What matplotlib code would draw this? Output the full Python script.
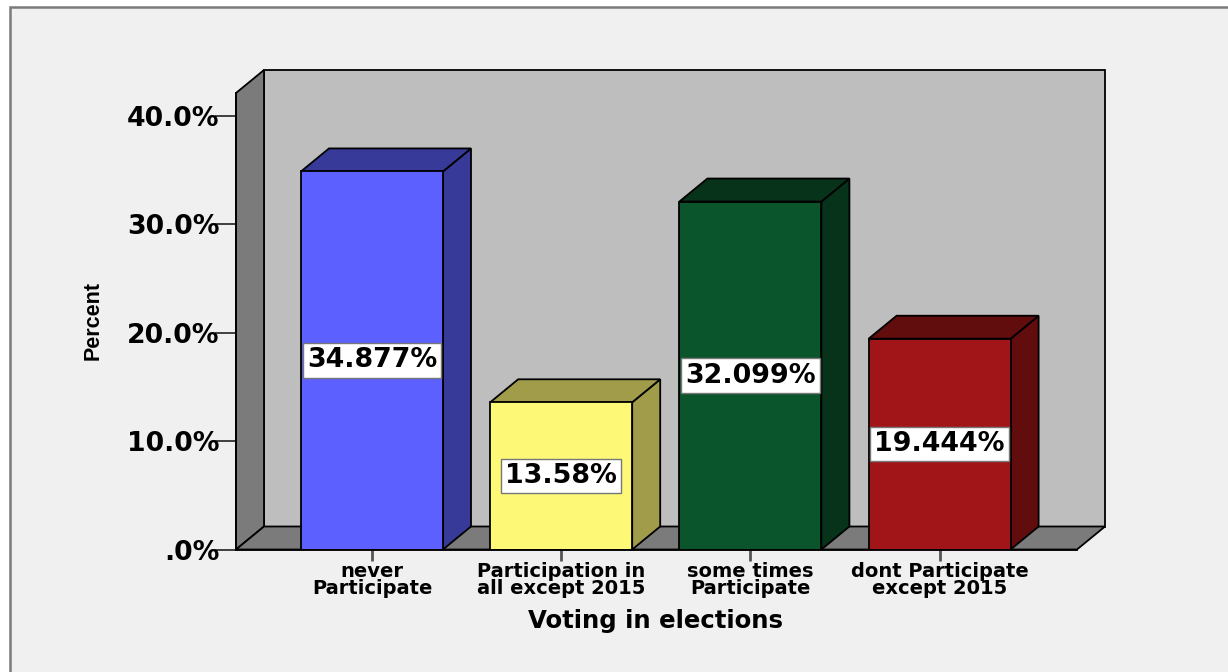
import matplotlib
matplotlib.use("Agg")
import matplotlib.pyplot as plt
from matplotlib.patches import Polygon, Rectangle

# values
categories = ["never\nParticipate", "Participation in\nall except 2015",
              "some times\nParticipate", "dont Participate\nexcept 2015"]
percent = [34.877, 13.58, 32.099, 19.444]
value_labels = ["34.877%", "13.58%", "32.099%", "19.444%"]
y_ticks = [0, 10, 20, 30, 40]
y_tick_labels = [".0%", "10.0%", "20.0%", "30.0%", "40.0%"]
front_colors = ["#5B60FF", "#FDF976", "#0A552B", "#A11518"]
side_colors = ["#373A99", "#A09C4A", "#06331A", "#610D0E"]

W, H = 1228, 672
fig = plt.figure(figsize=(W / 100, H / 100), dpi=100, facecolor="white")

# light panel with grey border, runs off the right and bottom of the image
fig.add_artist(Rectangle((9.5 / W, -0.1), 1.2, 1.1 - 7.5 / H, transform=fig.transFigure,
                         facecolor="#F0F0F0", edgecolor="#7A7A7A", linewidth=1.8, zorder=-1))

# axes box is the front plane of the 3d frame, in pixels
left, right, bottom, top = 236, 1077, 549.5, 93
ax = fig.add_axes([left / W, 1 - bottom / H, (right - left) / W, (bottom - top) / H])
ax.patch.set_visible(False)

px_y = 10.84  # pixels per percent
px_x = 189.2  # pixels per category
x_min = (left - 372) / px_x
x_max = x_min + (right - left) / px_x
y_max = (bottom - top) / px_y
ax.set_xlim(x_min, x_max)
ax.set_ylim(0, y_max)

dx = 28 / px_x
dy = 23 / px_y
bar_w = 142 / px_x
wall = "#BEBEBE"
dark = "#7B7B7B"


def face(points, color, z):
    ax.add_patch(Polygon(points, closed=True, facecolor=color, edgecolor="black",
                         linewidth=1.3, joinstyle="miter", clip_on=False, zorder=z))


# frame: back wall, left wall, floor
face([(x_min + dx, dy), (x_max + dx, dy), (x_max + dx, y_max + dy), (x_min + dx, y_max + dy)], wall, 1)
face([(x_min, 0), (x_min + dx, dy), (x_min + dx, y_max + dy), (x_min, y_max)], dark, 2)
face([(x_min, 0), (x_max, 0), (x_max + dx, dy), (x_min + dx, dy)], dark, 2)

xs = list(range(len(percent)))
for x, v, c, s, t in zip(xs, percent, front_colors, side_colors, value_labels):
    l, r = x - bar_w / 2, x + bar_w / 2
    face([(r, 0), (r + dx, dy), (r + dx, v + dy), (r, v)], s, 3)
    face([(l, v), (r, v), (r + dx, v + dy), (l + dx, v + dy)], s, 3)
    ax.bar(x, v, width=bar_w, color=c, edgecolor="black", linewidth=1.3, zorder=4)
    ax.text(x, v / 2, t, ha="center", va="center", fontsize=19.4, fontweight="bold",
            family="DejaVu Sans", color="black", zorder=6,
            bbox=dict(boxstyle="square,pad=0.15", facecolor="white", edgecolor="#777777", linewidth=1))

for side in ["top", "right"]:
    ax.spines[side].set_visible(False)
for side in ["left", "bottom"]:
    ax.spines[side].set_zorder(5)
    ax.spines[side].set_linewidth(1.3)

ax.set_yticks(y_ticks)
ax.set_yticklabels(y_tick_labels, family="DejaVu Sans", fontweight="bold", fontsize=19.2)
ax.tick_params(axis="y", length=15, width=1.2, pad=-3, color="#222222")
ax.set_xticks(xs)
ax.set_xticklabels(categories, family="DejaVu Sans", fontweight="bold", fontsize=14, linespacing=0.85)
ax.tick_params(axis="x", length=8, width=2, pad=1, color="#555555")

fig.text(93 / W, 1 - 321 / H, "Percent", rotation=90, ha="center", va="center",
         family="Liberation Sans", fontweight="bold", fontsize=15.5)
fig.text(655 / W, 1 - 621 / H, "Voting in elections", ha="center", va="center",
         family="DejaVu Sans", fontweight="bold", fontsize=17.6)

fig.savefig("out.png", dpi=100, facecolor=fig.get_facecolor())
